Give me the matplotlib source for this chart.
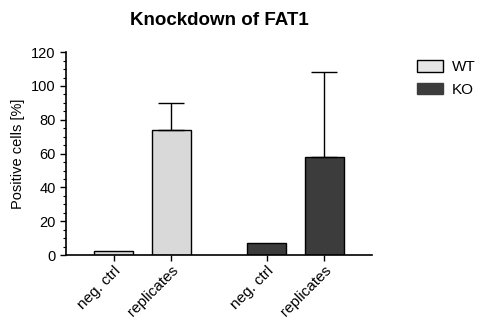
import numpy as np
import matplotlib.pyplot as plt
from matplotlib.ticker import MultipleLocator
from matplotlib.transforms import ScaledTranslation

plt.rcParams['font.family'] = ['Liberation Sans', 'DejaVu Sans']

groups = ['WT', 'KO']
labels = ['neg. ctrl', 'replicates', 'neg. ctrl', 'replicates']
means = [2.4, 74, 7, 58]
errs = [0, 16, 0, 50]
colors = ['#d9d9d9', '#d9d9d9', '#3c3c3c', '#3c3c3c']
x = np.array([0, 1.47, 3.92, 5.39])

fig = plt.figure(figsize=(4.8, 3.2), dpi=100)
ax = fig.add_axes([0.1375, 0.203, 0.6375, 0.634])

bars = ax.bar(x, means, width=1.0, color=colors, edgecolor='black', linewidth=1.0)
for xi, m, e in zip(x, means, errs):
    if e > 0:
        ax.errorbar(xi, m, yerr=[[0], [e]], fmt='none', ecolor='black',
                    elinewidth=1.0, capsize=9.5, capthick=1.0)

ax.set_xlim(-1.23, 6.62)
ax.set_ylim(0, 120)
ax.yaxis.set_major_locator(MultipleLocator(20))
ax.yaxis.set_minor_locator(MultipleLocator(5))
ax.set_xticks(x)
ax.set_xticklabels(labels, rotation=45, ha='right', rotation_mode='anchor', fontsize=11)
# nudge rotated labels so their ends sit just right of the ticks
shift = ScaledTranslation(8 / 100, -2 / 100, fig.dpi_scale_trans)
for lbl in ax.get_xticklabels():
    lbl.set_transform(lbl.get_transform() + shift)
ax.tick_params(axis='y', labelsize=10.5, length=4, width=1)
ax.tick_params(axis='y', which='minor', length=2, width=0.8)
ax.tick_params(axis='x', length=4, width=1, pad=2)
for s in ['top', 'right']:
    ax.spines[s].set_visible(False)
for s in ['left', 'bottom']:
    ax.spines[s].set_linewidth(1.2)

ax.set_ylabel('Positive cells [%]', fontsize=10.5)
fig.text(0.456, 0.937, 'Knockdown of FAT1', ha='center', va='center',
         fontsize=13.5, fontweight='bold')

handles = [plt.Rectangle((0, 0), 1, 1, facecolor='#e6e6e6', edgecolor='black', linewidth=1.0),
           plt.Rectangle((0, 0), 1, 1, facecolor='#3c3c3c', edgecolor='#3c3c3c', linewidth=1.0)]
fig.legend(handles, groups, loc='upper left', bbox_to_anchor=(0.84, 0.855),
           frameon=False, fontsize=11, handlelength=1.7, handleheight=0.8,
           handletextpad=0.6, labelspacing=0.55)

fig.savefig('out.png', dpi=100)
